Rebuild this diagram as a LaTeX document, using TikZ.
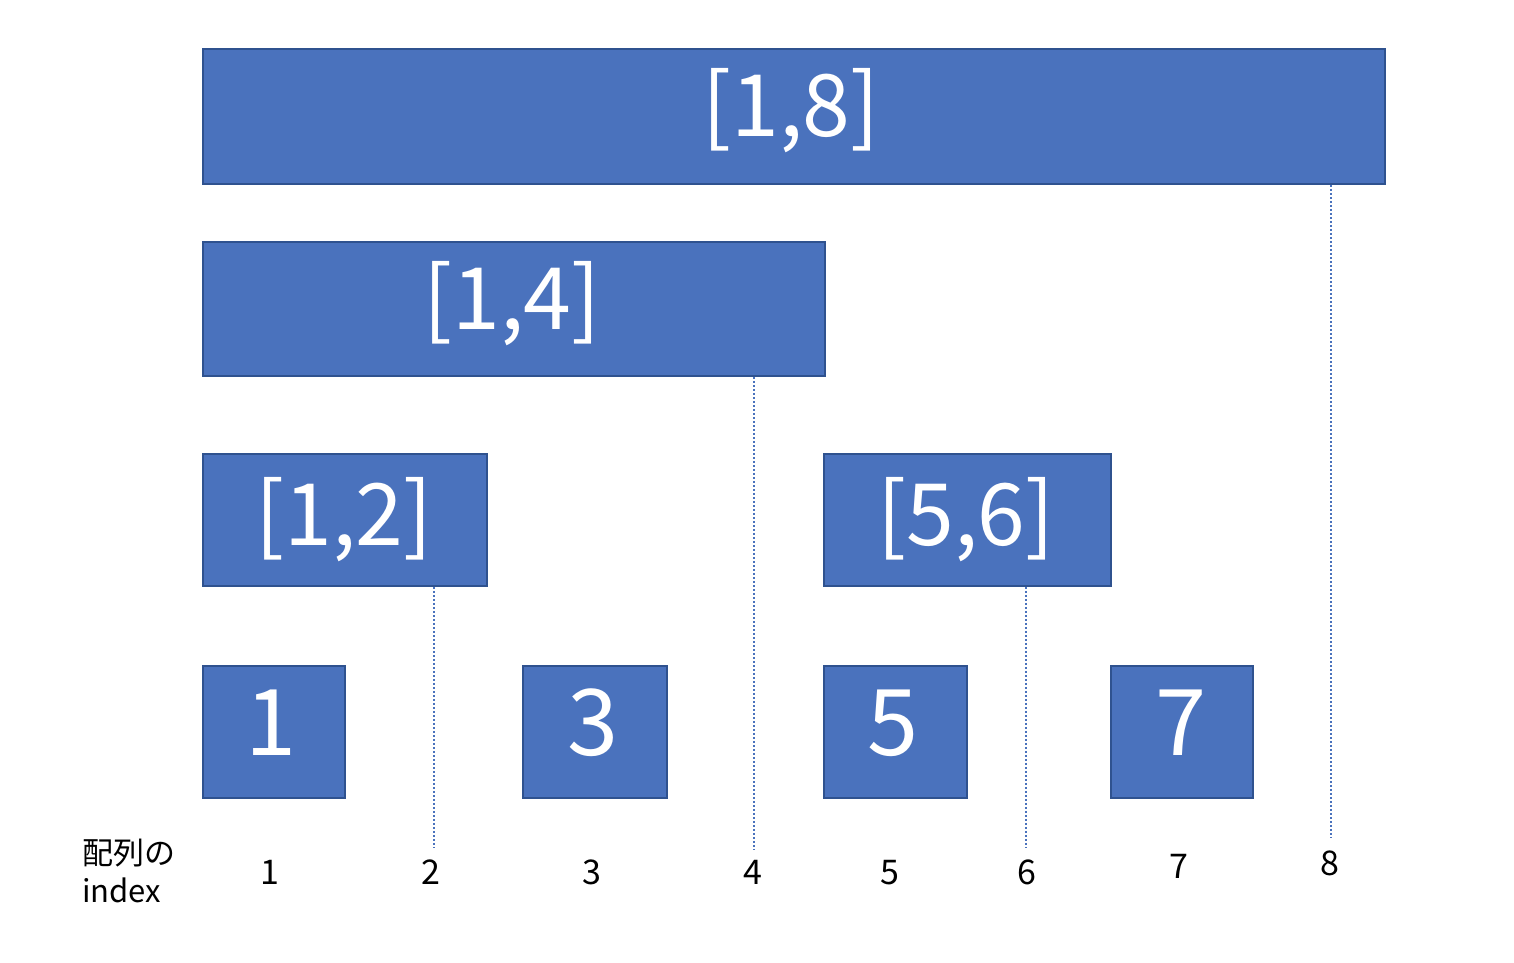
\documentclass[tikz,border=0pt]{standalone}
\usepackage{fontspec}
\setmainfont{Noto Sans CJK JP}
\begin{document}
\begin{tikzpicture}[x=1pt,y=-1pt,
  blk/.style={draw=boxedge,fill=boxfill,line width=1.8pt,inner sep=0pt,anchor=north west},
  big/.style={text=white,anchor=base,inner sep=0pt,font=\fontsize{86}{86}\selectfont},
  single/.style={text=white,anchor=base,inner sep=0pt,font=\fontsize{92}{92}\selectfont},
  idx/.style={anchor=base,inner sep=0pt,font=\fontsize{34}{34}\selectfont},
  lbl/.style={anchor=base west,inner sep=0pt,font=\fontsize{31}{31}\selectfont},
  guide/.style={draw=boxfill,line width=1.8pt,dash pattern=on 2pt off 2pt}]
\definecolor{boxfill}{HTML}{4A72BD}
\definecolor{boxedge}{HTML}{2F528F}
\useasboundingbox (0,0) rectangle (1514,962);
% boxes
\node[blk,minimum width=1182pt,minimum height=135pt] (b18) at (202,48) {};
\node[blk,minimum width=622pt,minimum height=134pt] (b14) at (202,241) {};
\node[blk,minimum width=284pt,minimum height=132pt] (b12) at (202,453) {};
\node[blk,minimum width=287pt,minimum height=132pt] (b56) at (823,453) {};
\node[blk,minimum width=142pt,minimum height=132pt] (b1) at (202,665) {};
\node[blk,minimum width=144pt,minimum height=132pt] (b3) at (522,665) {};
\node[blk,minimum width=143pt,minimum height=132pt] (b5) at (823,665) {};
\node[blk,minimum width=142pt,minimum height=132pt] (b7) at (1110,665) {};
% box texts
\node[big] (t18) at (791,136) {[1,8]};
\node[big] (t14) at (512,329) {[1,4]};
\node[big] (t12) at (344,545) {[1,2]};
\node[big] (t56) at (966,545) {[5,6]};
\node[single] (t1) at (271,755) {1};
\node[single] (t3) at (593,755) {3};
\node[single] (t5) at (893,755) {5};
\node[single] (t7) at (1181,755) {7};
% guide lines
\coordinate (e8) at (1331,838);
\coordinate (e4) at (754,850);
\coordinate (e2) at (434,848);
\coordinate (e6) at (1026,848);
\draw[guide] (b18.south -| e8) -- (e8);
\draw[guide] (b14.south -| e4) -- (e4);
\draw[guide] (b12.south -| e2) -- (e2);
\draw[guide] (b56.south -| e6) -- (e6);
% index labels
\node[idx] (i1) at (270,884) {1};
\node[idx] (i2) at (431,884) {2};
\node[idx] (i3) at (592,884) {3};
\node[idx] (i4) at (753,884) {4};
\node[idx] (i5) at (890,884) {5};
\node[idx] (i6) at (1027,884) {6};
\node[idx] (i7) at (1179,878) {7};
\node[idx] (i8) at (1330,875) {8};
\node[lbl] (l1) at (82,864) {配列の};
\node[lbl] (l2) at (82,902) {index};
\end{tikzpicture}
\end{document}
